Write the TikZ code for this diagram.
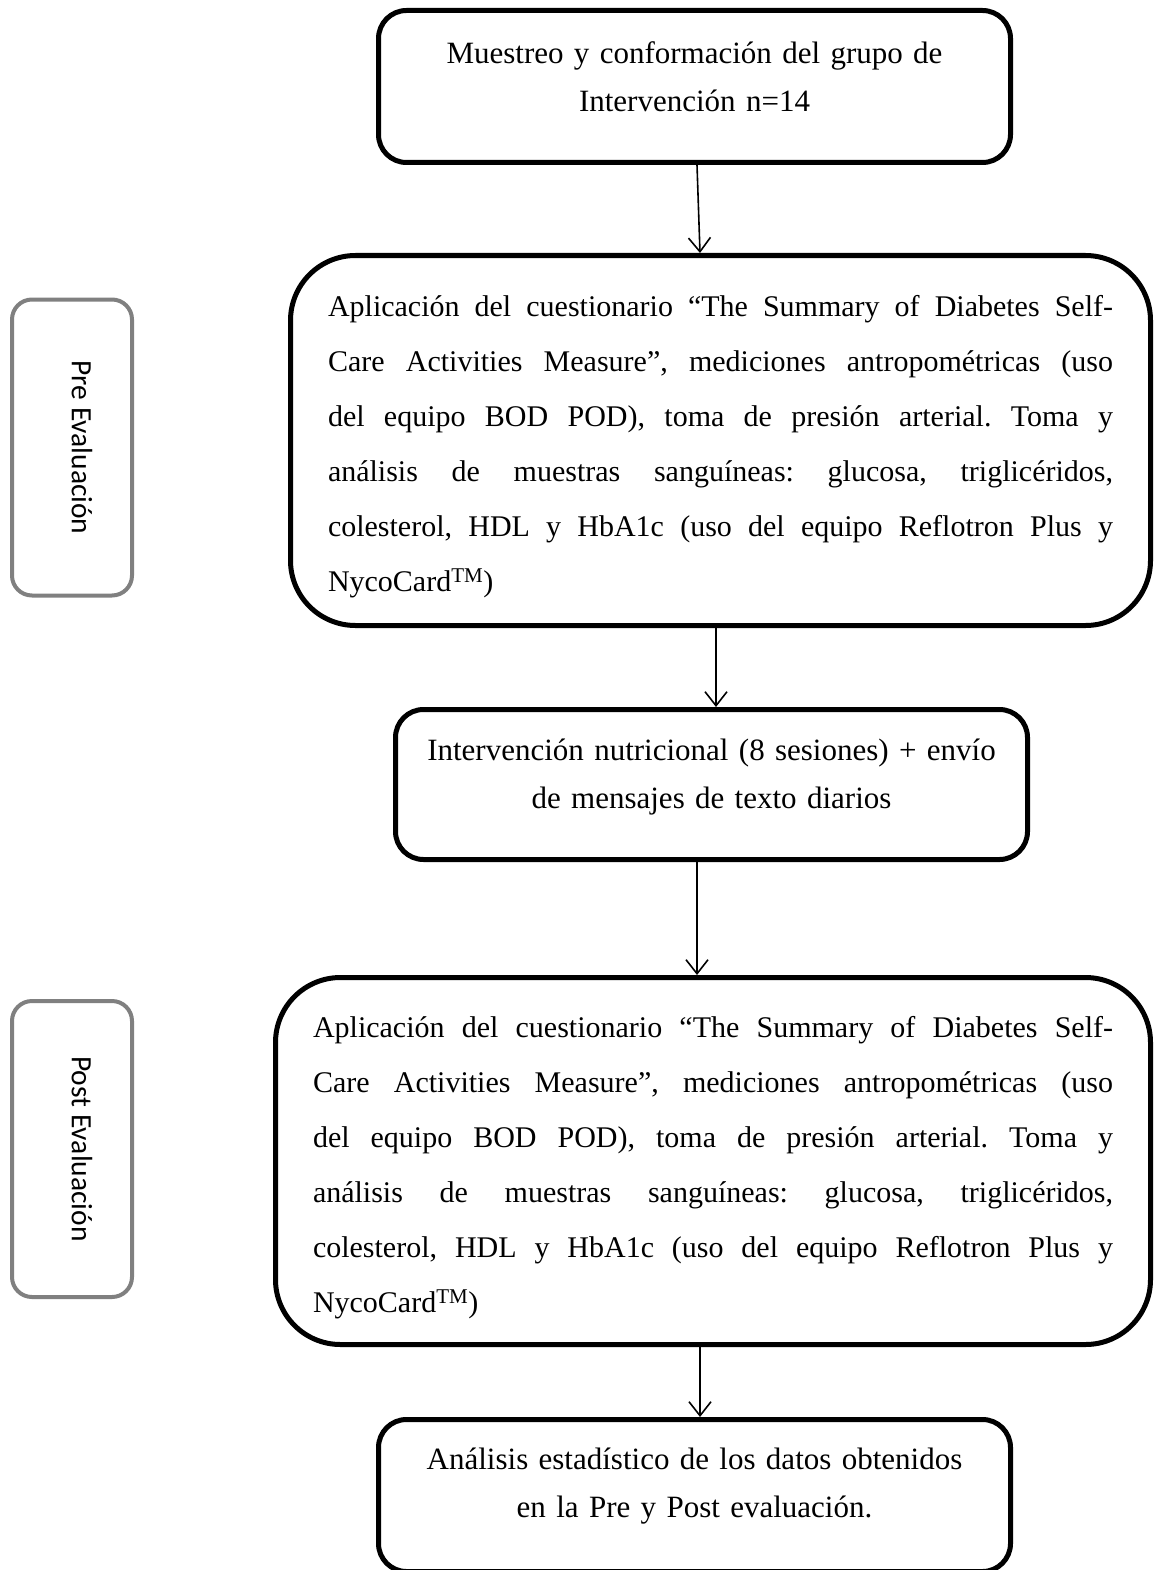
\documentclass[tikz,border=0pt]{standalone}
\usepackage{fontspec}
\setmainfont{Liberation Serif}
\newfontfamily\labelfont{Carlito}
\usetikzlibrary{arrows.meta}
\tolerance=10000
\hbadness=10000
\frenchspacing

\begin{document}
\begin{tikzpicture}[x=1pt,y=-1pt]
			\tikzset{stepbox/.style = {draw, line width=5pt, rounded corners=28pt, inner sep=0pt, align=center, font=\fontsize{31}{48}\selectfont}}
			\tikzset{bigbox/.style = {draw, line width=5pt, rounded corners=65pt, inner sep=0pt, text height=34pt, font=\fontsize{30}{55}\selectfont}}
			\tikzset{phasebox/.style = {draw=black!50, line width=4pt, rounded corners=20pt, rotate=-90, minimum width=296pt, minimum height=120pt, inner sep=0pt, font=\labelfont\fontsize{29.5}{35}\selectfont}}
			\tikzset{edge/.style = {-{Straight Barb[length=14pt,width=22pt]}, line width=1.6pt}}
			\path[use as bounding box, clip] (0,0) rectangle (1155,1570);
			% steps
			\node[stepbox, minimum width=632pt, minimum height=152pt, text width=600pt, text depth=68pt] (sample) at (694.5,86.5) {Muestreo y conformación del grupo de\\ Intervención n=14};
			\node[bigbox, minimum width=860pt, minimum height=370pt] (pretest) at (720.5,440.5) {\parbox[t]{785pt}{Aplicación del cuestionario “The Summary of Diabetes Self-\linebreak Care Activities Measure”, mediciones antropométricas (uso\linebreak del equipo BOD POD), toma de presión arterial. Toma y\linebreak análisis de muestras sanguíneas: glucosa, triglicéridos,\linebreak colesterol, HDL y HbA1c (uso del equipo Reflotron Plus y\linebreak NycoCard\textsuperscript{TM})}};
			\node[stepbox, minimum width=632pt, minimum height=150pt, text width=610pt, text depth=70pt] (diet) at (711.5,784.5) {Intervención nutricional (8 sesiones) + envío\\ de mensajes de texto diarios};
			\node[bigbox, minimum width=875pt, minimum height=367pt] (posttest) at (713,1161) {\parbox[t]{800pt}{Aplicación del cuestionario “The Summary of Diabetes Self-\linebreak Care Activities Measure”, mediciones antropométricas (uso\linebreak del equipo BOD POD), toma de presión arterial. Toma y\linebreak análisis de muestras sanguíneas: glucosa, triglicéridos,\linebreak colesterol, HDL y HbA1c (uso del equipo Reflotron Plus y\linebreak NycoCard\textsuperscript{TM})}};
			\node[stepbox, minimum width=632pt, minimum height=152pt, text width=600pt, text depth=74pt] (stats) at (694.5,1495.5) {Análisis estadístico de los datos obtenidos\\ en la Pre y Post evaluación.};
			% phases
			\node[phasebox] (pre) at (72,447.5) {\raisebox{20pt}{Pre Evaluación}};
			\node[phasebox] (post) at (72,1149) {\raisebox{20pt}{Post Evaluación}};
			% edges
			\draw[edge] ([xshift=2.5pt]sample.south) -- ([xshift=-20.5pt]pretest.north);
			\draw[edge] ([xshift=-4.5pt]pretest.south) -- ([xshift=4.5pt]diet.north);
			\draw[edge] ([xshift=-14.5pt]diet.south) -- ([xshift=-16pt]posttest.north);
			\draw[edge] ([xshift=-13pt]posttest.south) -- ([xshift=5.5pt]stats.north);
		\end{tikzpicture}
\end{document}
